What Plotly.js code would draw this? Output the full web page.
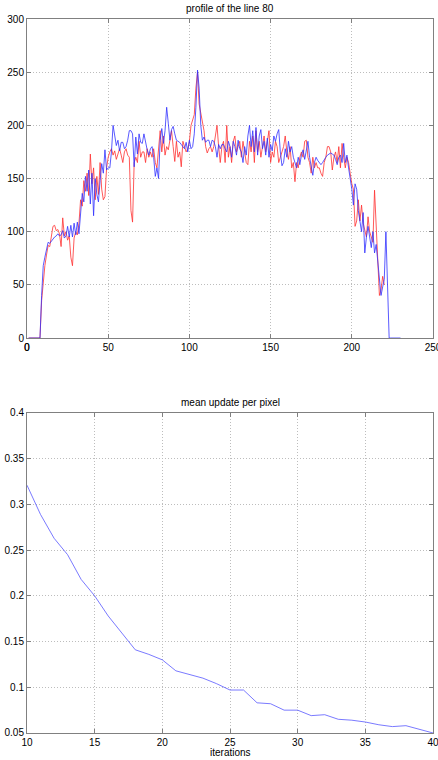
<!DOCTYPE html>
<html>
<head>
<meta charset="utf-8">
<script src="https://cdn.plot.ly/plotly-3.0.1.min.js"></script>
<style>html,body{margin:0;padding:0;background:#fff;}#chart{width:438px;height:760px;}</style>
</head>
<body>
<div id="chart"></div>
<script>
// Top: profile of the line 80 (pixel index starts at 1)
const profileBlue = [
0,0,0,0,0,0,0,0,40,68,
76,84,90,89,91,94,95,96,98,96,
97,101,94,96,105,95,106,95,108,97,
109,98,115,136,128,152,138,158,126,155,
115,150,135,128,148,164,155,177,158,160,
160,175,200,192,181,186,176,184,184,178,
180,186,195,195,192,161,189,173,192,184,
183,192,183,177,172,178,180,170,152,160,
150,186,197,183,195,217,202,186,196,199,
192,186,185,184,182,180,178,184,175,186,
178,180,192,217,252,235,200,186,189,184,
186,186,180,186,185,180,170,182,178,182,
182,178,175,185,180,170,185,180,172,186,
178,175,165,180,172,190,200,180,195,175,
198,172,190,196,178,185,172,188,170,182,
176,190,185,192,196,175,162,165,178,170,
185,175,180,170,165,160,170,163,172,177,
168,175,185,170,160,153,165,170,167,165,
163,165,168,170,172,173,174,173,172,168,
163,170,172,165,183,165,172,160,150,140,
125,145,140,120,110,100,118,80,95,105,
95,85,100,80,88,70,50,40,48,55,
100,50,0,0,0,0,0,0,0,0
];
const profileRed = [
0,0,0,0,0,0,0,0,35,52,
68,78,87,86,98,105,106,101,102,98,
86,113,96,100,92,96,76,68,94,100,
97,108,130,124,148,138,155,134,173,145,
160,130,152,135,165,140,130,133,160,170,
175,178,172,176,168,172,178,172,165,175,
178,172,170,120,109,165,170,165,185,170,
175,175,165,178,170,175,170,178,165,160,
175,195,175,190,172,180,177,185,195,180,
166,185,170,175,161,185,180,175,178,185,
200,205,210,235,250,220,212,205,195,180,
174,178,180,175,180,190,200,180,165,180,
185,165,200,170,180,165,185,190,175,180,
185,170,185,175,165,163,185,175,190,165,
195,175,185,170,180,190,175,185,195,165,
175,170,185,180,165,170,175,180,190,175,
168,180,160,165,147,165,160,170,175,170,
185,186,170,165,155,170,160,165,160,160,
155,152,165,170,180,180,175,158,170,175,
165,180,160,183,170,160,170,165,155,145,
140,105,110,130,110,125,108,100,95,114,
100,95,90,139,110,75,40,45,58,50
];
const profileXTicks = [0,50,100,150,200,250];
const profileYTicks = [0,50,100,150,200,250,300];

// Bottom: mean update per pixel
const iterations = [10,11,12,13,14,15,16,17,18,19,20,21,22,23,24,25,26,27,28,29,30,31,32,33,34,35,36,37,38,39,40];
const meanUpdate = [0.321,0.289,0.263,0.245,0.218,0.200,0.178,0.160,0.141,0.136,0.130,0.118,0.114,0.110,0.104,0.097,0.097,0.083,0.082,0.075,0.075,0.069,0.070,0.065,0.064,0.062,0.059,0.057,0.058,0.054,0.050];
const iterXTicks = [10,15,20,25,30,35,40];
const meanYTicks = [0.05,0.1,0.15,0.2,0.25,0.3,0.35,0.4];
const meanYTickText = ['0.05','0.1','0.15','0.2','0.25','0.3','0.35','0.4'];

const topTitle = 'profile of the line 80';
const bottomTitle = 'mean update per pixel';
const bottomXLabel = 'iterations';

const fontFam = 'Liberation Sans, Arial, Helvetica, sans-serif';

const traces = [
  {x: profileRed.map((v,i)=>i+1), y: profileRed, type:'scatter', mode:'lines',
   line:{color:'#ff3030', width:0.8}, xaxis:'x', yaxis:'y', hoverinfo:'skip'},
  {x: profileBlue.map((v,i)=>i+1), y: profileBlue, type:'scatter', mode:'lines',
   line:{color:'#3030ff', width:0.8}, xaxis:'x', yaxis:'y', hoverinfo:'skip'},
  {x: iterations, y: meanUpdate, type:'scatter', mode:'lines',
   line:{color:'#5858ff', width:0.8}, xaxis:'x2', yaxis:'y2', hoverinfo:'skip'}
];

const axBase = {
  showline:true, linecolor:'#808080', linewidth:1, mirror:'ticks',
  ticks:'inside', ticklen:4, tickcolor:'#808080', tickwidth:1,
  showgrid:true, gridcolor:'#bdbdbd', griddash:'1px,2px', gridwidth:1,
  zeroline:false, tickfont:{family:fontFam, size:10, color:'#000'},
  ticklabeloverflow:'allow', automargin:false,
  fixedrange:true
};

const layout = {
  width:438, height:760,
  margin:{l:27, r:5, t:19, b:27},
  paper_bgcolor:'#fff', plot_bgcolor:'#fff',
  showlegend:false,
  font:{family:fontFam, size:10, color:'#000'},
  xaxis: Object.assign({}, axBase, {domain:[0,1], range:[0,250], tickvals:profileXTicks, anchor:'y'}),
  yaxis: Object.assign({}, axBase, {domain:[0.5532,1], range:[0,300], tickvals:profileYTicks, anchor:'x'}),
  xaxis2: Object.assign({}, axBase, {domain:[0,1], range:[10,40], tickvals:iterXTicks, anchor:'y2'}),
  yaxis2: Object.assign({}, axBase, {domain:[0,0.4482], range:[0.05,0.4], tickvals:meanYTicks, ticktext:meanYTickText, anchor:'x2'}),
  annotations:[
    {text:topTitle, xref:'paper', yref:'paper', x:0.5, y:1.0154, xanchor:'center', yanchor:'middle', showarrow:false, font:{family:fontFam,size:10,color:'#000'}},
    {text:bottomTitle, xref:'paper', yref:'paper', x:0.5, y:0.4622, xanchor:'center', yanchor:'middle', showarrow:false, font:{family:fontFam,size:10,color:'#000'}},
    {text:bottomXLabel, xref:'paper', yref:'paper', x:0.5, y:-0.028, xanchor:'center', yanchor:'middle', showarrow:false, font:{family:fontFam,size:10,color:'#000'}},
    // origin tick label of the top x axis (Plotly hides it where the axes cross)
    {text:String(profileXTicks[0]), xref:'x', yref:'paper', x:profileXTicks[0], y:0.5406, xanchor:'center', yanchor:'middle', showarrow:false, font:{family:fontFam,size:10,color:'#000'}}
  ]
};

Plotly.newPlot('chart', traces, layout, {staticPlot:true, displayModeBar:false});
</script>
</body>
</html>
